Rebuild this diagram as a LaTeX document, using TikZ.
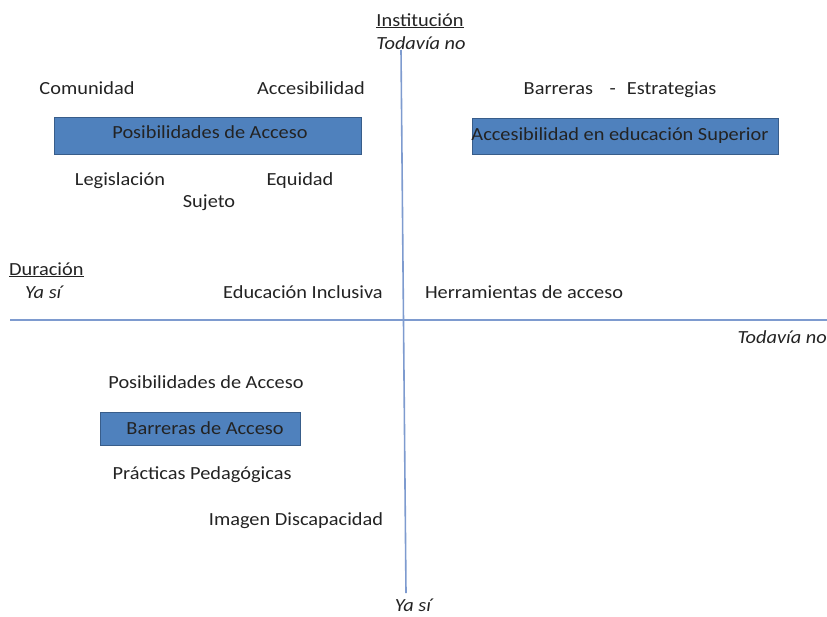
\documentclass[tikz,border=0pt]{standalone}
\usepackage{fontspec}
\setmainfont{Carlito}[FakeStretch=1.1]
\definecolor{axisblue}{RGB}{126,155,207}
\definecolor{boxfill}{RGB}{79,129,189}
\definecolor{boxline}{RGB}{56,93,138}
\definecolor{txt}{RGB}{35,35,35}
\begin{document}
\begin{tikzpicture}[x=1pt,y=-1pt,
  lbl/.style={text=txt,font=\fontsize{18.5}{20}\selectfont,inner sep=0pt,anchor=base},
  itl/.style={lbl,font=\fontsize{18.5}{20}\selectfont\itshape},
  bluebox/.style={draw=boxline,fill=boxfill,line width=1pt,inner sep=0pt},
  axis/.style={draw=axisblue,line width=1.6pt}]
\useasboundingbox (0,0) rectangle (827,616);
% axes
\coordinate (vtop) at (401,50);
\coordinate (vbot) at (406,593);
\coordinate (hleft) at (10,320);
\coordinate (hright) at (827,320);
\draw[axis] (vtop) -- (vbot);
\draw[axis] (hleft) -- (hright);
% axis labels
\node[lbl] (inst) at (420,26) {\underline{Institución}};
\node[itl] (todtop) at (421,49) {Todavía no};
\node[lbl,anchor=base west] (dur) at (9,275) {\underline{Duración}};
\node[itl,anchor=base west] (yasileft) at (25,298) {Ya sí};
\node[itl,anchor=base east] (todright) at (827,343) {Todavía no};
\node[itl] (yasibot) at (413,611) {Ya sí};
% upper left
\node[lbl] (comunidad) at (87,94) {Comunidad};
\node[lbl] (accesib) at (311,94) {Accesibilidad};
\node[bluebox,minimum width=307pt,minimum height=37pt] (posib) at (207.5,136) {};
\node[lbl] (posibtxt) at (210,138) {Posibilidades de Acceso};
\node[lbl] (legis) at (120,185) {Legislación};
\node[lbl] (equidad) at (300,185) {Equidad};
\node[lbl] (sujeto) at (209,207) {Sujeto};
\node[lbl] (educinc) at (303,298) {Educación Inclusiva};
% upper right
\node[lbl] (barrest) at (620,94) {Barreras\hspace{0.9em}-\hspace{0.6em}Estrategias};
\node[bluebox,minimum width=306pt,minimum height=36pt] (accsup) at (625,136) {};
\node[lbl] (accsuptxt) at (620,140) {Accesibilidad en educación Superior};
\node[lbl] (herram) at (524,298) {Herramientas de acceso};
% lower left
\node[lbl] (posib2) at (206,388) {Posibilidades de Acceso};
\node[bluebox,minimum width=200pt,minimum height=33pt] (barreras) at (200,428.5) {};
\node[lbl] (barrerastxt) at (205,434) {Barreras de Acceso};
\node[lbl] (practicas) at (202,479) {Prácticas Pedagógicas};
\node[lbl] (imagen) at (296,525) {Imagen Discapacidad};
\end{tikzpicture}
\end{document}
